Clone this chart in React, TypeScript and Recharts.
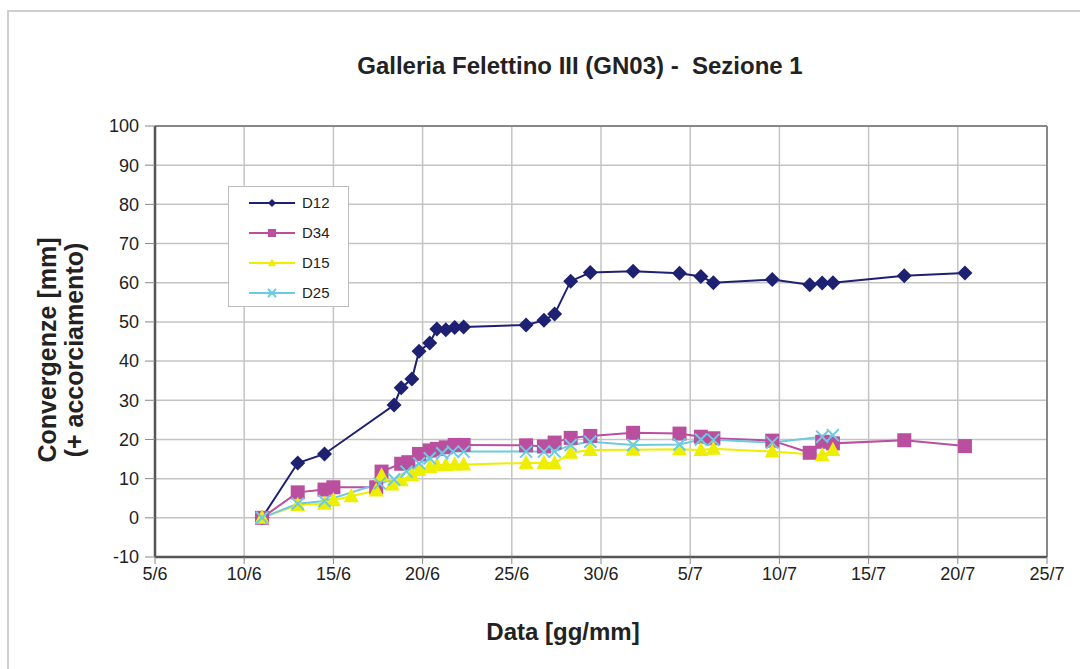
import React from "react";
import { LineChart, Line, XAxis, YAxis, CartesianGrid, ReferenceLine, Legend } from "recharts";

// days counted from 1 June (July days = 30 + day)
const d12Days = [11, 13, 14.5, 18.4, 18.8, 19.4, 19.8, 20.4, 20.8, 21.3, 21.8, 22.3, 25.8, 26.8, 27.4, 28.3, 29.4, 31.8, 34.4, 35.6, 36.3, 39.6, 41.7, 42.4, 43.0, 47.0, 50.4];
const d12Values = [0, 14, 16.3, 28.8, 33.2, 35.4, 42.5, 44.6, 48.2, 48.0, 48.6, 48.7, 49.2, 50.4, 52, 60.4, 62.6, 62.9, 62.4, 61.6, 60.0, 60.8, 59.5, 59.9, 60.0, 61.8, 62.5];

const d34Days = [11, 13, 14.5, 15, 17.4, 17.7, 18.8, 19.2, 19.8, 20.4, 20.8, 21.3, 21.8, 22.3, 25.8, 26.8, 27.4, 28.3, 29.4, 31.8, 34.4, 35.6, 36.3, 39.6, 41.7, 42.4, 43.0, 47.0, 50.4];
const d34Values = [0, 6.5, 7.2, 7.8, 7.8, 11.8, 13.8, 14.2, 16.3, 17.2, 17.6, 18.0, 18.6, 18.6, 18.5, 18.2, 19.2, 20.4, 20.9, 21.7, 21.5, 20.7, 20.3, 19.7, 16.6, 19.4, 19.0, 19.8, 18.3];

const d15Days = [11, 13, 14.5, 15, 16, 17.4, 17.7, 18.3, 18.8, 19.4, 19.8, 20.4, 20.8, 21.3, 21.8, 22.3, 25.8, 26.8, 27.4, 28.3, 29.4, 31.8, 34.4, 35.6, 36.3, 39.6, 42.4, 43.0];
const d15Values = [0, 3.3, 3.6, 4.5, 5.5, 7.0, 10.8, 8.5, 9.6, 10.9, 12.2, 13.0, 13.4, 13.5, 13.6, 13.6, 14.0, 14.0, 13.9, 16.6, 17.3, 17.4, 17.5, 17.3, 17.6, 16.9, 16.0, 17.3];

const d25Days = [11, 13, 14.5, 17.6, 18.4, 19.1, 19.8, 20.4, 21.1, 21.7, 22.3, 25.8, 26.8, 27.4, 28.3, 29.4, 31.8, 34.4, 35.6, 36.3, 39.6, 42.4, 43.0];
const d25Values = [0, 3.6, 4.3, 8.8, 9.8, 11.8, 13.9, 15.2, 16.5, 16.9, 16.9, 16.9, 16.9, 16.9, 18.6, 19.4, 18.6, 18.7, 20.0, 19.9, 19.2, 20.7, 21.1];

const xTicks = [5, 10, 15, 20, 25, 30, 35, 40, 45, 50, 55];
const xTickLabels = ["5/6", "10/6", "15/6", "20/6", "25/6", "30/6", "5/7", "10/7", "15/7", "20/7", "25/7"];
const yTicks = [-10, 0, 10, 20, 30, 40, 50, 60, 70, 80, 90, 100];

const toPoints = (days: number[], values: number[]) => days.map((d, i) => ({ day: d, value: values[i] }));

const FONT = "'Liberation Sans', Arial, sans-serif";
const NAVY = "#1e2172";
const MAGENTA = "#bb4f9f";
const YELLOW = "#eeee00";
const CYAN = "#6ccbe0";

type Shape = "diamond" | "square" | "triangle" | "cross";

const marker = (shape: Shape, color: string, cx: number, cy: number, s: number, key?: string) => {
  if (shape === "diamond")
    return <path key={key} d={`M${cx},${cy - s}L${cx + s},${cy}L${cx},${cy + s}L${cx - s},${cy}Z`} fill={color} />;
  if (shape === "square")
    return <rect key={key} x={cx - s} y={cy - s} width={s * 2} height={s * 2} fill={color} />;
  if (shape === "triangle")
    return <path key={key} d={`M${cx},${cy - s * 1.1}L${cx + s},${cy + s * 0.8}L${cx - s},${cy + s * 0.8}Z`} fill={color} />;
  return (
    <path key={key} d={`M${cx - s},${cy - s}L${cx + s},${cy + s}M${cx + s},${cy - s}L${cx - s},${cy + s}`} stroke={color} strokeWidth={2} fill="none" />
  );
};

const dotFor = (shape: Shape, color: string, s: number) => (props: any) => {
  const { cx, cy, index } = props;
  if (cx == null || cy == null) return <g key={`e-${index}`} />;
  return marker(shape, color, cx, cy, s, `${shape}-${index}`);
};

const legendItems: { name: string; color: string; shape: Shape }[] = [
  { name: "D12", color: NAVY, shape: "diamond" },
  { name: "D34", color: MAGENTA, shape: "square" },
  { name: "D15", color: YELLOW, shape: "triangle" },
  { name: "D25", color: CYAN, shape: "cross" },
];

const renderLegend = () => (
  <div style={{ width: 121, height: 121, border: "1px solid #bdbdbd", background: "#fff", boxSizing: "border-box" }}>
    <svg width={119} height={119}>
      {legendItems.map((it, i) => {
        const y = 16 + i * 30;
        return (
          <g key={it.name}>
            <line x1={20} x2={66} y1={y} y2={y} stroke={it.color} strokeWidth={2} />
            {marker(it.shape, it.color, 43, y, 4)}
            <text x={73} y={y + 5} fontSize={15} fill="#222" fontFamily={FONT}>
              {it.name}
            </text>
          </g>
        );
      })}
    </svg>
  </div>
);

export default function App() {
  return (
    <div style={{ position: "absolute", left: 0, top: 0, width: 1080, height: 669, background: "#fff", fontFamily: FONT }}>
      <div style={{ position: "absolute", left: 7, top: 10, right: 0, bottom: 0, borderTop: "2px solid #cfcfcf", borderLeft: "2px solid #cfcfcf" }} />
      <div style={{ position: "absolute", left: 0, width: 1160, top: 52, textAlign: "center", fontWeight: "bold", fontSize: 24, color: "#222" }}>
        Galleria Felettino III (GN03) -&nbsp; Sezione 1
      </div>
      <div
        style={{
          position: "absolute",
          left: 61 - 150,
          top: 350 - 27,
          width: 300,
          transform: "rotate(-90deg)",
          textAlign: "center",
          fontWeight: "bold",
          fontSize: 25,
          lineHeight: "27px",
          color: "#222",
        }}
      >
        Convergenze [mm]
        <br />
        (+ accorciamento)
      </div>
      <div style={{ position: "absolute", left: 413, width: 300, top: 618, textAlign: "center", fontWeight: "bold", fontSize: 24, color: "#222" }}>
        Data [gg/mm]
      </div>
      <div style={{ position: "absolute", left: 0, top: 0 }}>
        <LineChart width={1080} height={669} margin={{ top: 126, right: 33, bottom: 72, left: 95 }}>
          <CartesianGrid stroke="#c4c4c4" strokeWidth={1.5} horizontalValues={yTicks} verticalValues={xTicks} />
          <XAxis
            dataKey="day"
            type="number"
            domain={[5, 55]}
            ticks={xTicks}
            allowDuplicatedCategory={false}
            height={40}
            tickFormatter={(v: number) => xTickLabels[xTicks.indexOf(v)]}
            tick={{ fontSize: 18, fill: "#222", fontFamily: FONT }}
            tickSize={7}
            tickMargin={3}
            axisLine={{ stroke: "#555", strokeWidth: 2.5 }}
            tickLine={{ stroke: "#888" }}
          />
          <YAxis
            type="number"
            domain={[-10, 100]}
            ticks={yTicks}
            width={60}
            tick={{ fontSize: 18, fill: "#222", fontFamily: FONT }}
            tickSize={10}
            tickMargin={6}
            axisLine={{ stroke: "#555", strokeWidth: 2.5 }}
            tickLine={{ stroke: "#888" }}
          />
          <ReferenceLine y={100} stroke="#888" strokeWidth={2} />
          <ReferenceLine x={55} stroke="#888" strokeWidth={2} />
          <Legend
            layout="horizontal"
            align="center"
            verticalAlign="middle"
            content={renderLegend}
            wrapperStyle={{ left: 228, top: 186, width: 121, height: 121 }}
          />
          <Line data={toPoints(d12Days, d12Values)} dataKey="value" name="D12" stroke={NAVY} strokeWidth={2} dot={dotFor("diamond", NAVY, 7.5)} isAnimationActive={false} />
          <Line data={toPoints(d34Days, d34Values)} dataKey="value" name="D34" stroke={MAGENTA} strokeWidth={2} dot={dotFor("square", MAGENTA, 7)} isAnimationActive={false} />
          <Line data={toPoints(d15Days, d15Values)} dataKey="value" name="D15" stroke={YELLOW} strokeWidth={2} dot={dotFor("triangle", YELLOW, 7.5)} isAnimationActive={false} />
          <Line data={toPoints(d25Days, d25Values)} dataKey="value" name="D25" stroke={CYAN} strokeWidth={2} dot={dotFor("cross", CYAN, 6)} isAnimationActive={false} />
        </LineChart>
      </div>
    </div>
  );
}
